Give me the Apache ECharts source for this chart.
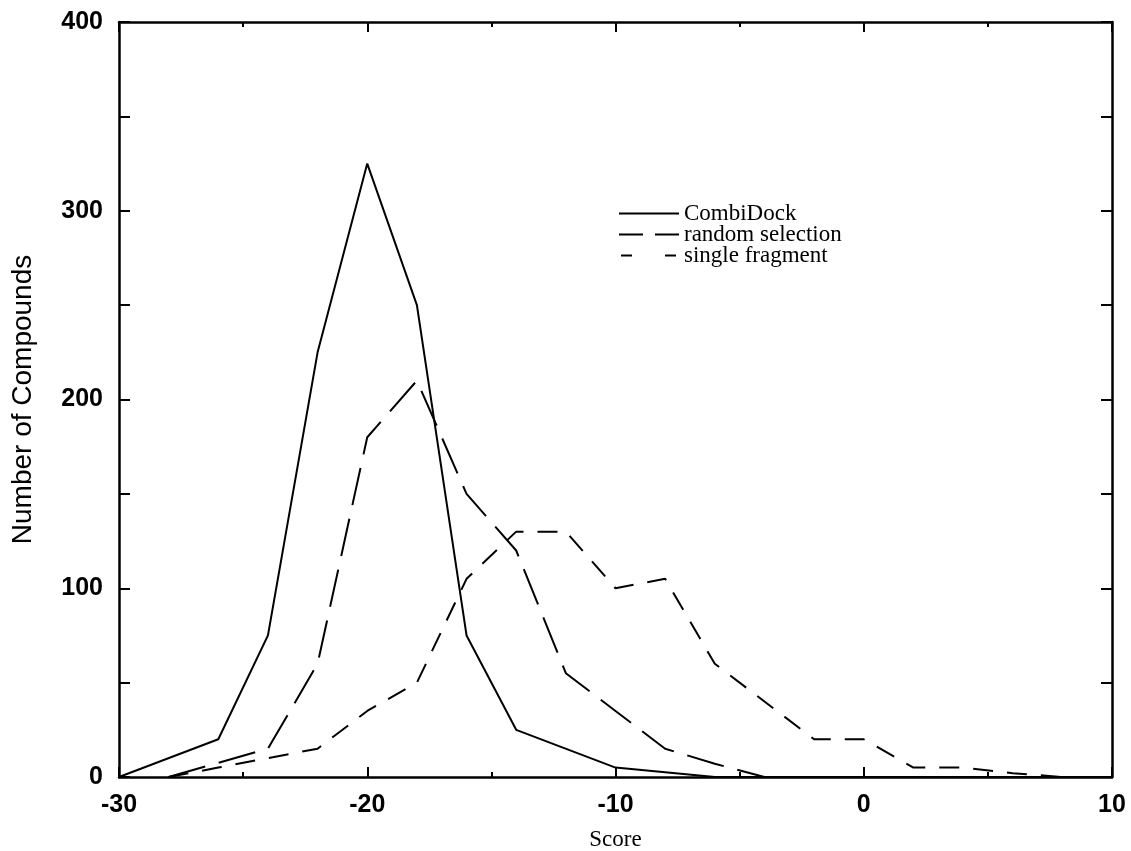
<!DOCTYPE html>
<html>
<head>
<meta charset="utf-8">
<script src="https://cdn.jsdelivr.net/npm/echarts@6/dist/echarts.min.js"></script>
<style>html,body{margin:0;padding:0;background:#fff}#c{width:1131px;height:851px}</style>
</head>
<body>
<div id="c"></div>
<script>
const combiDock = [[-30,0],[-26,20],[-24,75],[-22,225],[-20,325],[-18,250],[-16,75],[-14,25],[-10,5],[-6,0],[10,0]];
const randomSelection = [[-28,0],[-24,15],[-22,60],[-20,180],[-18,210],[-16,150],[-14,120],[-12,55],[-10,35],[-8,15],[-6,7],[-4,0]];
const singleFragment = [[-28,0],[-26,5],[-24,10],[-22,15],[-20,35],[-18,50],[-16,105],[-14,130],[-12,130],[-10,100],[-8,105],[-6,60],[-4,40],[-2,20],[0,20],[2,5],[4,5],[6,2],[8,0]];
const seriesNames = ['CombiDock','random selection','single fragment'];

const chart = echarts.init(document.getElementById('c'), null, {renderer:'canvas'});
const axisLine = {show:true, onZero:false, lineStyle:{color:'#000', width:2.5}};
const tickFont = {color:'#000', fontSize:25, fontWeight:'bold', fontFamily:'Liberation Sans, Arial, sans-serif'};
const serif = 'Liberation Serif, Times New Roman, serif';
chart.setOption({
  animation:false,
  backgroundColor:'#fff',
  grid:{left:119, right:19, top:22, bottom:74, containLabel:false, outerBoundsMode:'none'},
  legend:{
    left:613, top:197, orient:'vertical', itemWidth:60, itemHeight:4, itemGap:-2,
    itemStyle:{color:'rgba(0,0,0,0)', borderColor:'rgba(0,0,0,0)', borderWidth:0},
    data:[
      {name:seriesNames[0], lineStyle:{type:'solid', width:2}},
      {name:seriesNames[1], lineStyle:{type:[24,12], width:2}},
      {name:seriesNames[2], lineStyle:{type:[11,33], dashOffset:42, width:2}}
    ],
    textStyle:{color:'#000', fontSize:23, fontFamily:serif, padding:[0,0,0,0]}
  },
  xAxis:[{
    type:'value', min:-30, max:10, interval:10,
    name:'Score', nameLocation:'middle', nameGap:51,
    nameTextStyle:{color:'#000', fontSize:23, fontFamily:serif},
    axisLine:axisLine,
    axisTick:{show:true, inside:true, length:10, lineStyle:{color:'#000', width:2}},
    minorTick:{show:true, splitNumber:2, length:5, lineStyle:{color:'#000', width:2}},
    axisLabel:Object.assign({margin:16}, tickFont),
    splitLine:{show:false}, minorSplitLine:{show:false}
  },{
    type:'value', min:-30, max:10, interval:10, position:'top',
    axisLine:axisLine,
    axisTick:{show:true, inside:true, length:10, lineStyle:{color:'#000', width:2}},
    minorTick:{show:true, splitNumber:2, length:5, lineStyle:{color:'#000', width:2}},
    axisLabel:{show:false}, splitLine:{show:false}
  }],
  yAxis:[{
    type:'value', min:0, max:400, interval:50,
    name:'Number of Compounds', nameLocation:'middle', nameGap:82,
    nameTextStyle:{color:'#000', fontSize:28, fontFamily:'Liberation Sans Narrow, Arial Narrow, Liberation Sans, sans-serif'},
    axisLine:axisLine,
    axisTick:{show:true, inside:true, length:11, lineStyle:{color:'#000', width:2}},
    axisLabel:Object.assign({margin:16, formatter:v=> (v%100===0? String(v):'')}, tickFont),
    splitLine:{show:false}
  },{
    type:'value', min:0, max:400, interval:50, position:'right',
    axisLine:axisLine,
    axisTick:{show:true, inside:true, length:11, lineStyle:{color:'#000', width:2}},
    axisLabel:{show:false}, splitLine:{show:false}
  }],
  series:[
    {name:seriesNames[0], type:'line', data:combiDock, symbol:'none', color:'#000',
     lineStyle:{color:'#000', width:2, type:'solid'}},
    {name:seriesNames[1], type:'line', data:randomSelection, symbol:'none', color:'#000',
     lineStyle:{color:'#000', width:2, type:[38,14]}},
    {name:seriesNames[2], type:'line', data:singleFragment, symbol:'none', color:'#000',
     lineStyle:{color:'#000', width:2, type:[20,14]}}
  ]
});
</script>
</body>
</html>
